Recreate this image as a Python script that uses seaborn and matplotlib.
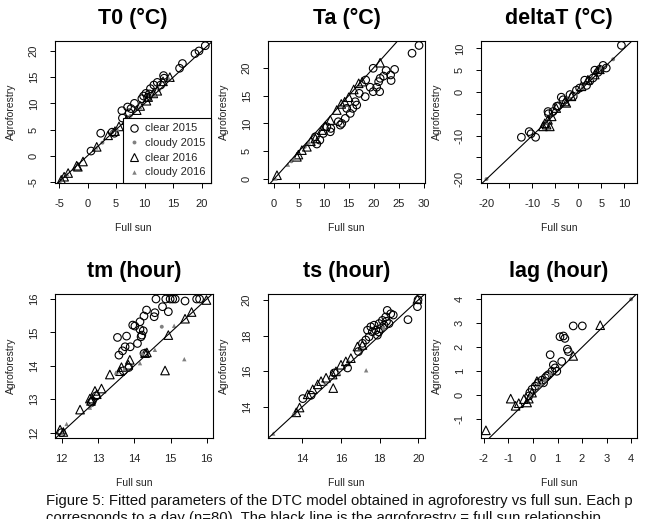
import numpy as np
import pandas as pd
import matplotlib
matplotlib.use("Agg")
import matplotlib.pyplot as plt
import seaborn as sns

sns.set_style("ticks")
plt.rcParams["font.family"] = ["Liberation Sans", "DejaVu Sans"]
plt.rcParams["axes.unicode_minus"] = False

# ---- T0 (°C) ----
T0_C15_X = [20.6, 19.5, 18.8, 16.6, 16.1, 13.3, 13.4, 12.2, 11.6, 11.0, 10.2, 9.8, 9.5, 8.2,
            7.0, 6.0, 6.1, 7.3, 7.6, 2.3, 0.6, 4.3, 4.7, 10.8, 12.8, 10.5]
T0_C15_Y = [21.0, 20.0, 19.5, 17.6, 16.7, 15.3, 14.8, 14.0, 13.5, 12.8, 11.9, 11.4, 10.9, 10.0,
            9.3, 8.6, 7.2, 8.2, 9.0, 4.3, 0.9, 4.5, 4.3, 11.8, 13.5, 11.1]
T0_D15_X = [4.3, 7.5, 11.0, 12.5, 2.6]
T0_D15_Y = [4.5, 7.6, 11.3, 12.6, 2.5]
T0_C16_X = [-4.6, -4.1, -3.4, -1.9, -1.7, -0.8, 1.6, 3.6, 4.8, 6.8, 8.6, 10.3, 10.6, 11.5,
            13.2, 14.4, 9.2, 12.2, 5.5]
T0_C16_Y = [-4.6, -4.0, -3.3, -1.9, -2.1, -1.1, 1.7, 3.9, 4.7, 6.8, 8.7, 10.5, 11.2, 11.9,
            14.2, 15.0, 9.5, 12.4, 5.6]
T0_D16_X = [-3.6, -4.8, 5.2, 9.2, 14.3, 1.5, 11.8]
T0_D16_Y = [-3.5, -5.0, 5.1, 9.3, 14.6, 1.6, 11.6]

# ---- Ta (°C) ----
TA_C15_X = [29.1, 27.7, 24.2, 22.5, 23.4, 23.5, 22.0, 21.0, 21.3, 19.9, 19.3, 19.9, 20.6, 21.2,
            18.3, 18.4, 17.1, 16.3, 16.6, 15.8, 15.3, 14.6, 14.3, 13.3, 12.9, 13.6, 11.3, 11.4,
            9.9, 8.6, 9.2, 10.6, 8.3]
TA_C15_Y = [24.0, 22.6, 19.7, 19.5, 18.7, 17.7, 18.5, 17.5, 18.1, 19.9, 16.5, 15.7, 16.5, 15.7,
            14.8, 17.8, 15.4, 13.9, 13.3, 12.7, 11.8, 12.7, 10.9, 9.7, 10.3, 10.0, 8.5, 9.1,
            8.2, 6.3, 7.0, 9.4, 7.6]
TA_D15_X = [3.5, 6.2]
TA_D15_Y = [3.2, 5.8]
TA_C16_X = [0.6, 4.9, 5.6, 6.6, 8.3, 9.6, 10.3, 11.3, 12.6, 13.5, 15.0, 16.0, 17.0, 17.7,
            21.3, 4.6, 7.4, 14.2]
TA_C16_Y = [0.7, 4.4, 5.2, 5.8, 7.3, 8.8, 9.5, 10.6, 12.4, 13.5, 14.7, 16.1, 17.2, 17.5,
            20.9, 4.0, 6.8, 13.9]
TA_D16_X = [4.0, 7.0, 0.3, 2.8]
TA_D16_Y = [3.7, 6.6, 0.1, 2.6]

# ---- deltaT (°C) ----
DT_C15_X = [9.4, 5.4, 6.1, 3.6, -12.4, -10.7, -10.3, -9.3, -6.6, -6.5, -4.7, -3.7, -3.3, -1.8,
            -0.4, 1.4, 2.5, 3.2, 4.3, 4.7, -1.1, 0.3, 1.8, -4.4, -5.5]
DT_C15_Y = [10.7, 6.1, 5.5, 5.0, -10.4, -9.1, -9.6, -10.4, -4.5, -5.0, -3.3, -1.2, -1.8, -0.6,
            0.4, 2.7, 2.5, 3.2, 4.5, 5.2, -1.0, 0.9, 1.5, -3.2, -4.5]
DT_D15_X = [-20.0, 7.6, 1.0, -2.0]
DT_D15_Y = [-20.0, 7.5, 1.0, -1.5]
DT_C16_X = [-7.3, -6.6, -6.2, -7.7, -4.8, -2.9, -2.6, -1.5, 0.7, 2.1, 3.6, 4.7, -6.9, -5.8]
DT_C16_Y = [-7.2, -6.4, -7.9, -7.9, -3.7, -2.2, -2.5, -1.0, 1.3, 2.8, 4.0, 5.2, -7.5, -5.6]
DT_D16_X = [5.0, -7.0, -0.5, 3.0]
DT_D16_Y = [5.5, -7.0, -0.3, 3.2]

# ---- tm (hour) ----
TM_C15_X = [14.60, 14.87, 14.99, 15.06, 15.13, 15.72, 15.80, 15.40, 14.78, 14.94, 14.34, 14.57,
            14.55, 14.27, 14.16, 13.96, 14.02, 14.25, 14.16, 14.21, 14.19, 13.54, 13.79, 14.09,
            13.75, 13.89, 13.58, 13.68, 14.27, 12.95, 12.82, 12.00, 12.85, 13.70, 13.85]
TM_C15_Y = [16.00, 16.00, 16.00, 16.00, 16.00, 16.00, 16.00, 15.94, 15.77, 15.62, 15.67, 15.59,
            15.47, 15.49, 15.32, 15.22, 15.19, 15.05, 15.09, 14.92, 14.87, 14.85, 14.89, 14.67,
            14.57, 14.57, 14.32, 14.45, 14.37, 13.10, 12.90, 12.00, 12.95, 13.85, 13.95]
TM_D15_X = [14.76, 13.52, 12.80]
TM_D15_Y = [15.17, 13.79, 12.80]
TM_C16_X = [15.99, 15.58, 15.40, 14.94, 14.30, 14.85, 13.88, 13.84, 13.65, 13.61, 13.33, 13.10,
            12.92, 12.78, 12.81, 12.51, 11.96, 12.97, 14.35, 12.05]
TM_C16_Y = [15.97, 15.61, 15.41, 14.92, 14.38, 13.86, 14.18, 14.03, 13.96, 13.84, 13.74, 13.32,
            13.25, 13.02, 12.95, 12.69, 12.09, 13.15, 14.40, 12.02]
TM_D16_X = [15.10, 15.38, 14.57, 14.16, 12.78, 12.14, 13.73, 14.22, 13.50]
TM_D16_Y = [15.20, 14.20, 14.48, 14.08, 12.75, 12.26, 13.90, 14.38, 13.80]

# ---- ts (hour) ----
TS_C15_X = [19.98, 19.95, 19.46, 18.39, 18.57, 18.31, 18.14, 17.97, 17.71, 17.54, 17.37, 17.62,
            17.88, 17.45, 17.28, 17.11, 18.05, 18.22, 18.48, 17.80, 14.03, 14.46, 16.34, 15.65,
            18.70, 17.95, 18.35, 16.90]
TS_C15_Y = [20.00, 19.62, 18.89, 19.41, 19.22, 19.04, 18.85, 18.67, 18.58, 18.49, 18.30, 18.21,
            18.02, 17.93, 17.75, 17.56, 18.39, 18.58, 18.67, 18.30, 14.46, 14.65, 16.18, 15.90,
            19.15, 18.20, 18.80, 17.10]
TS_D15_X = [13.60, 16.40, 18.20]
TS_D15_Y = [13.60, 16.50, 18.40]
TS_C16_X = [19.95, 17.11, 16.85, 16.51, 16.25, 16.00, 15.74, 15.57, 15.60, 14.97, 14.80, 14.54,
            14.28, 13.86, 13.69, 15.23]
TS_C16_Y = [20.05, 17.47, 17.38, 16.73, 16.55, 16.36, 15.99, 15.81, 15.05, 15.44, 15.26, 14.98,
            14.70, 13.96, 13.69, 15.63]
TS_D16_X = [17.30, 12.50, 13.55, 15.20, 15.90]
TS_D16_Y = [16.05, 12.50, 13.60, 15.30, 15.90]

# ---- lag (hour) ----
LG_C15_X = [1.64, 2.01, 1.10, 1.30, 1.24, 1.40, 1.44, 0.70, 1.17, 0.90, 0.77, 0.63, 0.50, 0.36,
            0.23, 0.09, -0.04, -0.13, -0.17, 0.83, 0.97, 0.56, 0.43]
LG_C15_Y = [2.89, 2.89, 2.44, 2.37, 2.47, 1.92, 1.82, 1.69, 1.41, 1.14, 1.00, 0.86, 0.73, 0.63,
            0.52, 0.38, 0.25, 0.11, -0.03, 1.27, 1.00, 0.80, 0.52]
LG_D15_X = [0.50, 0.20, 4.00]
LG_D15_Y = [0.60, 0.40, 4.00]
LG_C16_X = [-1.92, -0.91, -0.71, -0.58, -0.37, -0.24, -0.17, 1.64, 2.74, 0.16, -0.04]
LG_C16_Y = [-1.46, -0.14, -0.44, -0.33, -0.16, -0.30, -0.14, 1.64, 2.92, 0.59, 0.11]
LG_D16_X = [0.70, 0.35, -0.10]
LG_D16_Y = [0.90, 0.45, 0.00]

GROUPS = ["clear 2015", "cloudy 2015", "clear 2016", "cloudy 2016"]

panels = [
    ("T0 (°C)", [(T0_C15_X, T0_C15_Y), (T0_D15_X, T0_D15_Y), (T0_C16_X, T0_C16_Y), (T0_D16_X, T0_D16_Y)],
     (-5.7, 21.6), (-5.2, 21.9), [-5, 0, 5, 10, 15, 20], [-5, 0, 5, 10, 15, 20], None, None),
    ("Ta (°C)", [(TA_C15_X, TA_C15_Y), (TA_D15_X, TA_D15_Y), (TA_C16_X, TA_C16_Y), (TA_D16_X, TA_D16_Y)],
     (-1.2, 30.3), (-0.7, 24.8), [0, 5, 10, 15, 20, 25, 30], [0, 5, 10, 15, 20], None, None),
    ("deltaT (°C)", [(DT_C15_X, DT_C15_Y), (DT_D15_X, DT_D15_Y), (DT_C16_X, DT_C16_Y), (DT_D16_X, DT_D16_Y)],
     (-21.2, 12.8), (-20.9, 11.7), [-20, -15, -10, -5, 0, 5, 10], [-20, -15, -10, -5, 0, 5, 10],
     ["-20", "", "-10", "-5", "0", "5", "10"], ["-20", "", "-10", "", "0", "5", "10"]),
    ("tm (hour)", [(TM_C15_X, TM_C15_Y), (TM_D15_X, TM_D15_Y), (TM_C16_X, TM_C16_Y), (TM_D16_X, TM_D16_Y)],
     (11.82, 16.17), (11.84, 16.15), [12, 13, 14, 15, 16], [12, 13, 14, 15, 16], None, None),
    ("ts (hour)", [(TS_C15_X, TS_C15_Y), (TS_D15_X, TS_D15_Y), (TS_C16_X, TS_C16_Y), (TS_D16_X, TS_D16_Y)],
     (12.23, 20.34), (12.25, 20.33), [14, 16, 18, 20], [14, 16, 18, 20], None, None),
    ("lag (hour)", [(LG_C15_X, LG_C15_Y), (LG_D15_X, LG_D15_Y), (LG_C16_X, LG_C16_Y), (LG_D16_X, LG_D16_Y)],
     (-2.12, 4.24), (-1.78, 4.22), [-2, -1, 0, 1, 2, 3, 4], [-1, 0, 1, 2, 3, 4], None, None),
]

W, H = 652, 519
fig = plt.figure(figsize=(W / 100, H / 100), dpi=100)

# pixel boxes (left, top, right, bottom)
boxes = [(55, 41, 211, 183), (268, 41, 425, 183), (481, 41, 637, 183),
         (55, 294, 213, 438), (268, 294, 425, 438), (481, 294, 637, 438)]

styles = [
    dict(marker="o", s=30, facecolors="none", edgecolors="black", linewidths=0.8),
    dict(marker="o", s=8, color="#808080", edgecolors="none", linewidths=0),
    dict(marker="^", s=38, facecolors="none", edgecolors="black", linewidths=0.8),
    dict(marker="^", s=10, color="#808080", edgecolors="none", linewidths=0),
]

for (title, data, xl, yl, xt, yt, xtl, ytl), (l, t, r, b) in zip(panels, boxes):
    ax = fig.add_axes([l / W, 1 - b / H, (r - l) / W, (b - t) / H])
    for grp, (xs, ys), st in zip(GROUPS, data, styles):
        df = pd.DataFrame({"x": xs, "y": ys})
        sns.scatterplot(data=df, x="x", y="y", ax=ax, label=grp, legend=False, **st)
    ax.axline((xl[0], xl[0]), slope=1, color="black", lw=0.8)
    ax.set_xlim(*xl)
    ax.set_ylim(*yl)
    ax.set_xticks(xt)
    ax.set_yticks(yt)
    if xtl is not None:
        ax.set_xticklabels(xtl)
    if ytl is not None:
        ax.set_yticklabels(ytl)
    for lab in ax.get_yticklabels():
        lab.set_rotation(90)
        lab.set_va("center")
    ax.tick_params(axis="both", direction="out", length=3.8, width=0.7, color="black",
                   labelsize=8, labelcolor="#222222", pad=8)
    for sp in ax.spines.values():
        sp.set_visible(True)
        sp.set_color("black")
        sp.set_linewidth(0.8)
    ax.set_xlabel("Full sun", fontsize=7.5, labelpad=10, color="#222222")
    ax.set_ylabel("Agroforestry", fontsize=7.5, labelpad=9, color="#222222")
    ax.set_title(title, fontsize=15.5, fontweight="bold", pad=12, color="black")
    if title.startswith("T0"):
        handles = [plt.Line2D([], [], ls="none", marker="o", ms=5.3, mfc="none", mec="black", mew=0.8),
                   plt.Line2D([], [], ls="none", marker="o", ms=2.8, mfc="#808080", mec="none"),
                   plt.Line2D([], [], ls="none", marker="^", ms=6.2, mfc="none", mec="black", mew=0.8),
                   plt.Line2D([], [], ls="none", marker="^", ms=3.2, mfc="#808080", mec="none")]
        leg = ax.legend(handles, GROUPS, loc="lower right", borderaxespad=0, fancybox=False,
                        edgecolor="black", framealpha=1, fontsize=8, labelspacing=0.42,
                        handlelength=1.0, handletextpad=0.5, borderpad=0.5)
        leg.get_frame().set_linewidth(0.8)

fig.text(46 / W, 1 - 501 / H,
         "Figure 5: Fitted parameters of the DTC model obtained in agroforestry vs full sun. Each p",
         fontsize=10.7, va="center", ha="left", color="#111111")
fig.text(46 / W, 1 - 518 / H,
         "corresponds to a day (n=80). The black line is the agroforestry = full sun relationship.",
         fontsize=10.7, va="center", ha="left", color="#111111")

fig.savefig("out.png", dpi=100)
